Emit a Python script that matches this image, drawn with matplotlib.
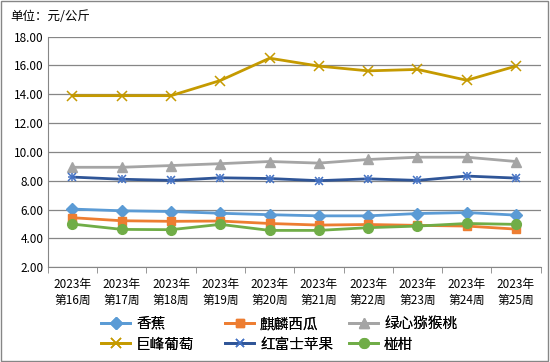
import numpy as np
import matplotlib.pyplot as plt
from matplotlib.patches import Rectangle

plt.rcParams['font.family'] = ['Noto Sans CJK SC', 'DejaVu Sans']

weeks = ["2023年\n第16周", "2023年\n第17周", "2023年\n第18周", "2023年\n第19周", "2023年\n第20周",
         "2023年\n第21周", "2023年\n第22周", "2023年\n第23周", "2023年\n第24周", "2023年\n第25周"]

banana = [6.03, 5.91, 5.86, 5.74, 5.64, 5.56, 5.56, 5.72, 5.79, 5.61]
watermelon = [5.43, 5.22, 5.18, 5.20, 5.03, 4.92, 4.96, 4.90, 4.85, 4.64]
kiwi = [8.93, 8.93, 9.05, 9.18, 9.33, 9.22, 9.47, 9.63, 9.63, 9.33]
grape = [13.9, 13.9, 13.9, 14.95, 16.5, 15.95, 15.62, 15.72, 14.97, 15.95]
apple = [8.25, 8.1, 8.02, 8.2, 8.15, 8.0, 8.13, 8.02, 8.32, 8.18]
orange = [4.99, 4.62, 4.6, 4.97, 4.55, 4.55, 4.74, 4.85, 5.03, 4.97]

series = [
    ("香蕉", banana, "#5B9BD5", "D", 6),
    ("麒麟西瓜", watermelon, "#ED7D31", "s", 6),
    ("绿心猕猴桃", kiwi, "#A5A5A5", "^", 7),
    ("巨峰葡萄", grape, "#C59A00", "x", 7),
    ("红富士苹果", apple, "#2F5597", "x", 6),
    ("椪柑", orange, "#70AD47", "o", 7),
]

fig = plt.figure(figsize=(5.5, 3.62), dpi=100)
ax = fig.add_axes([0.087, 0.262, 0.896, 0.637])

x = np.arange(len(weeks))
for name, vals, col, mk, ms in series:
    if name == "红富士苹果":
        ax.plot(x, vals, color=col, lw=2, marker="x", ms=ms, mew=1.1,
                mec="#4472C4", label=name, zorder=3)
        ax.plot(x, vals, ls="none", marker="+", ms=ms, mew=1.1, mec="#4472C4", zorder=3)
    elif mk == "x":
        ax.plot(x, vals, color=col, lw=2, marker=mk, ms=ms, mew=1.1, label=name, zorder=3)
    else:
        ax.plot(x, vals, color=col, lw=2, marker=mk, ms=ms, label=name, zorder=3)

ax.set_ylim(2, 18)
ax.set_yticks(np.arange(2, 18.1, 2))
ax.set_yticklabels([f"{v:.2f}" for v in np.arange(2, 18.1, 2)], fontsize=8.5)
ax.set_xlim(-0.5, len(weeks) - 0.5)
ax.set_xticks(x)
ax.set_xticklabels(weeks, fontsize=8.5, linespacing=1.25)
ax.set_xticks(np.arange(-0.5, len(weeks)), minor=True)
ax.tick_params(axis="x", which="major", length=0, pad=8)
ax.tick_params(axis="x", which="minor", length=4, color="#868686")
ax.tick_params(axis="y", length=0, pad=3)
ax.grid(axis="y", color="#868686", lw=0.9)
ax.set_axisbelow(True)
for s in ["top", "right"]:
    ax.spines[s].set_visible(False)
for s in ["left", "bottom"]:
    ax.spines[s].set_color("#868686")

fig.text(0.018, 0.955, "单位：元/公斤", fontsize=9, va="center")

# legend: three equal-width columns, filled row by row
handles, labels = ax.get_legend_handles_labels()
col_x = [101, 225, 349]
for c in range(3):
    idx = [c, c + 3]
    lg = fig.legend([handles[i] for i in idx], [labels[i] for i in idx],
                    loc="upper left", bbox_to_anchor=(col_x[c] / 550, 1 - 317 / 362),
                    frameon=False, fontsize=10.5, handlelength=2, borderpad=0,
                    borderaxespad=0, handletextpad=0.4, labelspacing=0.45)
    fig.add_artist(lg)

fig.patches.append(Rectangle((0.002, 0.003), 0.995, 0.994, transform=fig.transFigure,
                             fill=False, ec="#868686", lw=1))

fig.savefig("out.png", dpi=100)
